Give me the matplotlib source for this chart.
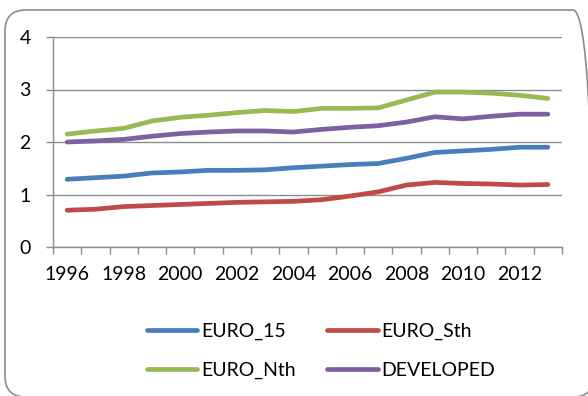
import matplotlib
matplotlib.use("Agg")
import matplotlib.pyplot as plt
from matplotlib.patches import FancyBboxPatch
from matplotlib.transforms import Bbox
import numpy as np

plt.rcParams['font.family'] = ['Lato', 'DejaVu Sans']

years = list(range(1996, 2014))
euro_15 = [1.29, 1.32, 1.35, 1.41, 1.43, 1.46, 1.46, 1.47, 1.51, 1.54, 1.57, 1.59, 1.69, 1.80, 1.83, 1.86, 1.90, 1.90]
euro_sth = [0.70, 0.72, 0.77, 0.79, 0.81, 0.83, 0.85, 0.86, 0.87, 0.90, 0.97, 1.05, 1.18, 1.23, 1.21, 1.20, 1.18, 1.19]
euro_nth = [2.15, 2.21, 2.26, 2.40, 2.47, 2.51, 2.56, 2.60, 2.58, 2.64, 2.64, 2.65, 2.80, 2.95, 2.95, 2.93, 2.89, 2.83]
developed = [2.00, 2.02, 2.05, 2.11, 2.16, 2.19, 2.21, 2.21, 2.19, 2.24, 2.28, 2.31, 2.38, 2.48, 2.44, 2.49, 2.53, 2.53]

series = [
    ("EURO_15", euro_15, "#4A7EBB"),
    ("EURO_Sth", euro_sth, "#BE4B48"),
    ("EURO_Nth", euro_nth, "#98B954"),
    ("DEVELOPED", developed, "#7D60A0"),
]

W, H = 588, 396
fig = plt.figure(figsize=(W / 100, H / 100), dpi=100)

# rounded chart-area border (pixel units, origin bottom-left)
left, right, top, bottom = 5, 594, 10, 397
border = FancyBboxPatch((left, H - bottom), right - left, bottom - top,
                        boxstyle="round,pad=0,rounding_size=21",
                        transform=None, facecolor="none",
                        edgecolor="#8C8C8C", linewidth=1.2, zorder=-1)
border.set_clip_box(Bbox([[0, 0], [W, H]]))
fig.patches.append(border)

ax = fig.add_axes([53 / W, 1 - 247 / H, (562 - 53) / W, (247 - 37) / H])
ax.set_facecolor("none")

x = np.arange(len(years))
lines = {}
for name, vals, col in series:
    lines[name], = ax.plot(x, vals, color=col, lw=3.4, label=name,
                           solid_capstyle="round", solid_joinstyle="round")

ax.set_xlim(-0.5, len(years) - 0.5)
ax.set_ylim(0, 4)
ax.set_yticks([0, 1, 2, 3, 4])
ax.yaxis.grid(True, color="#8C8C8C", lw=1.0)
ax.set_axisbelow(True)

# category ticks between points, labels every other year
ax.set_xticks(np.arange(-0.5, len(years), 1.0))
ax.set_xticklabels([])
ax.set_xticks(x[::2], minor=True)
ax.set_xticklabels([str(y) for y in years[::2]], minor=True)
ax.tick_params(axis="x", which="major", length=5, color="#8C8C8C", width=1.0)
ax.tick_params(axis="x", which="minor", length=0, pad=14, labelsize=14)
ax.tick_params(axis="y", length=5, color="#8C8C8C", width=1.0, labelsize=14, pad=11)

for s in ["top", "right"]:
    ax.spines[s].set_visible(False)
for s in ["left", "bottom"]:
    ax.spines[s].set_color("#8C8C8C")
    ax.spines[s].set_linewidth(1.0)

order = ["EURO_15", "EURO_Nth", "EURO_Sth", "DEVELOPED"]
fig.legend([lines[n] for n in order], order, loc="center",
           bbox_to_anchor=(321 / W, 1 - 351 / H), ncol=2,
           frameon=False, fontsize=14, handlelength=2.6, handletextpad=0.2,
           columnspacing=1.6, labelspacing=1.1)

fig.savefig("out.png", dpi=100)
